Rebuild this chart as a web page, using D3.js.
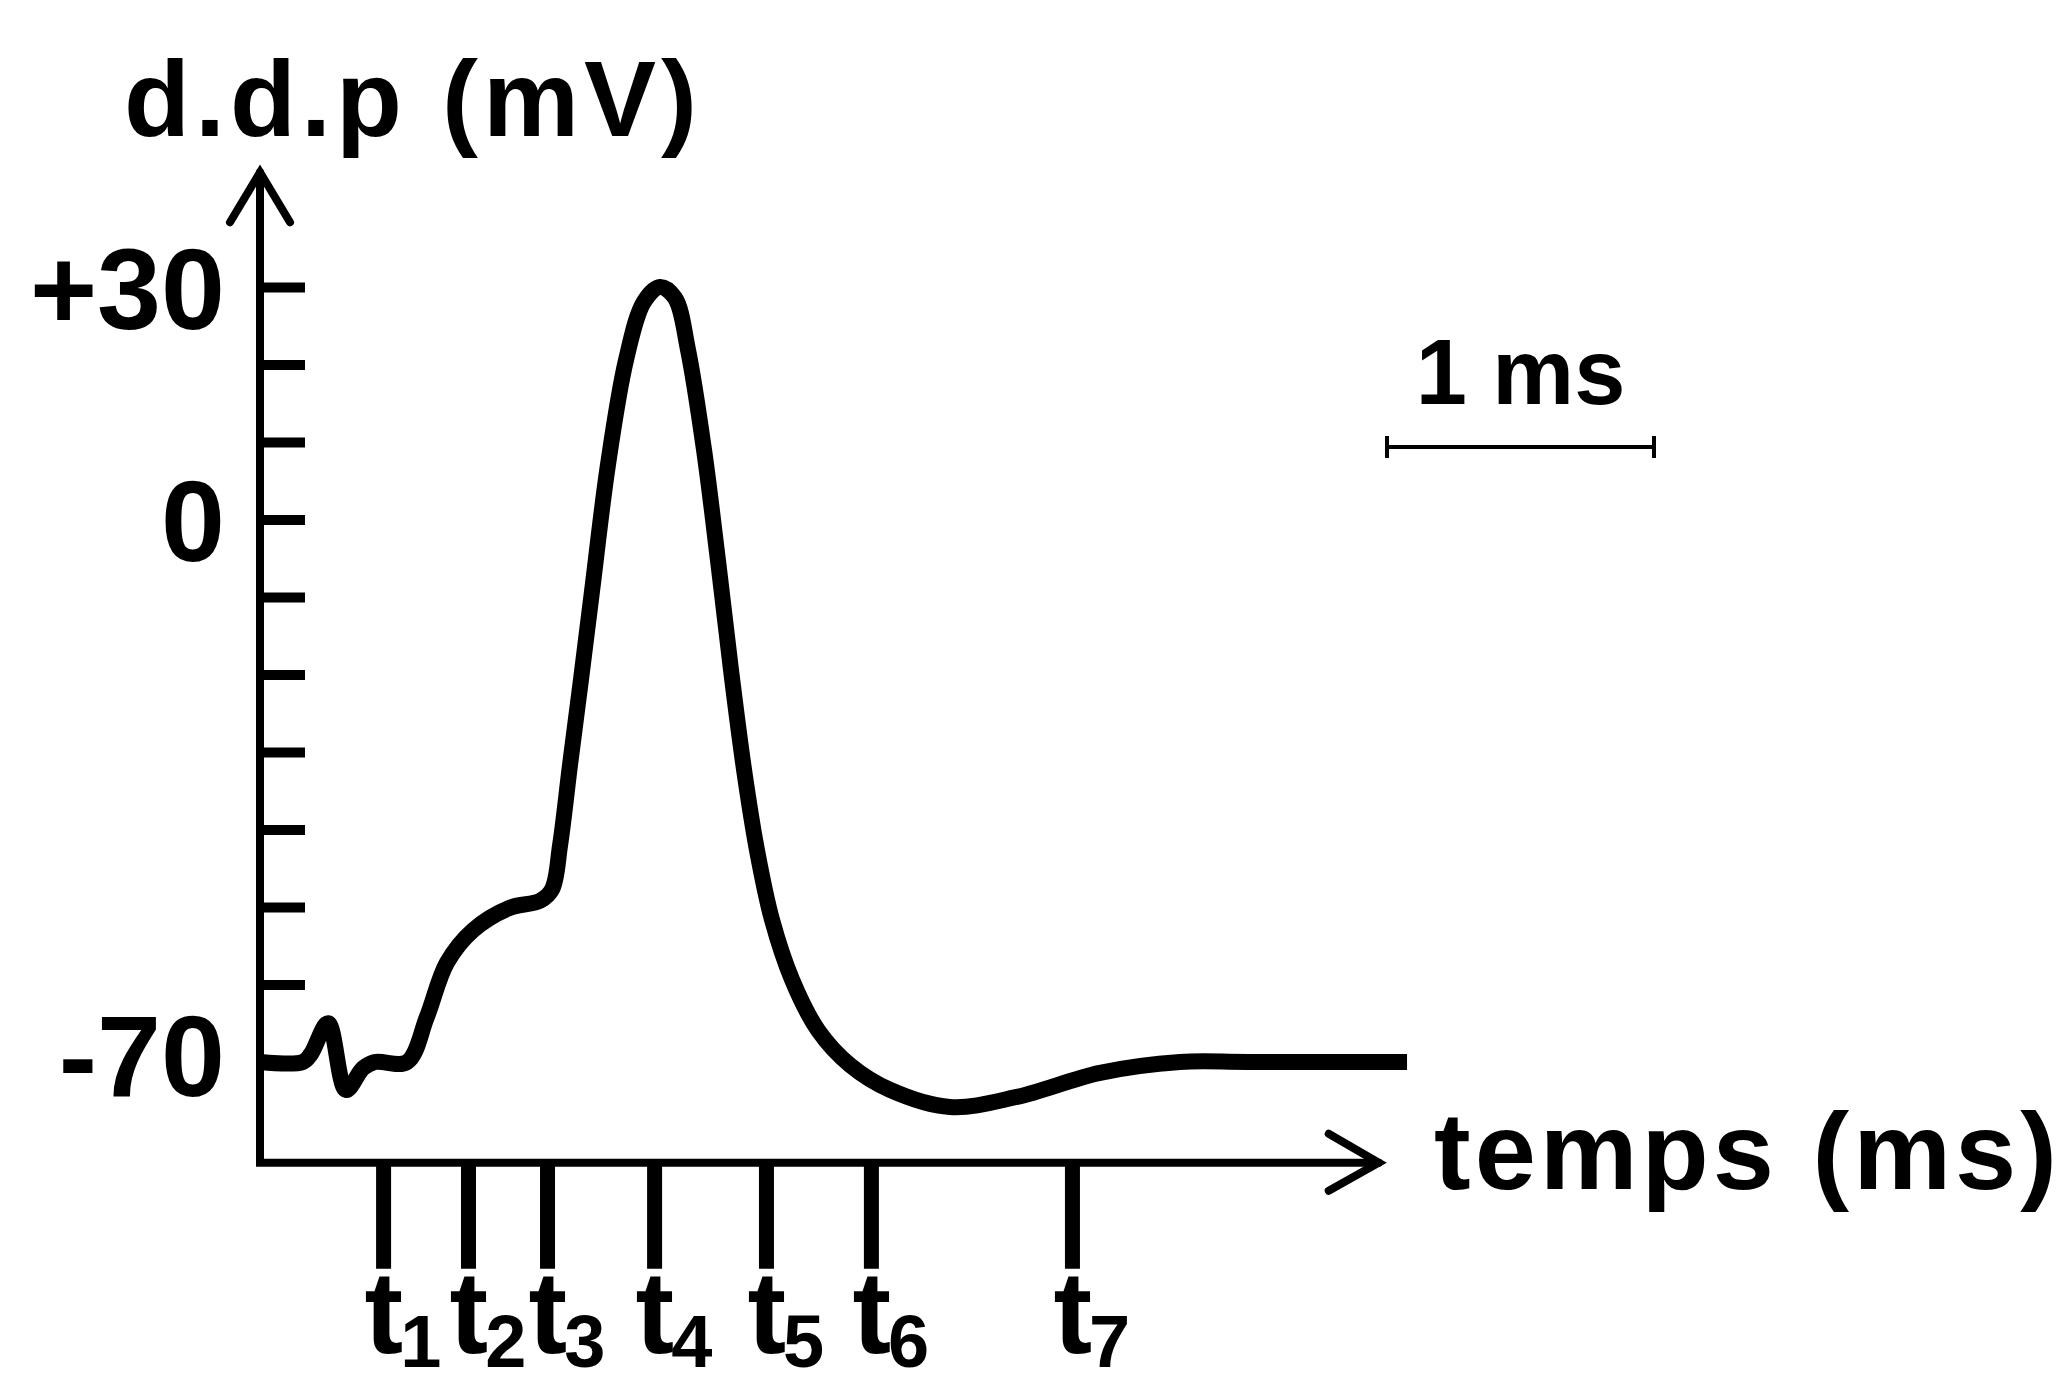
<!DOCTYPE html>
<html>
<head>
<meta charset="utf-8">
<script src="https://cdn.jsdelivr.net/npm/d3@7"></script>
<style>
  body { margin: 0; background: #fff; }
  svg text { font-family: "Liberation Sans", Arial, Helvetica, sans-serif; font-weight: bold; fill: #000; }
</style>
</head>
<body>
<div id="chart"></div>
<script>
// potential curve (time in ms, d.d.p in mV)
var timeMs = [0.0, 0.16, 0.19, 0.255, 0.322, 0.386, 0.43, 0.551, 0.625, 0.70, 0.798, 0.936, 1.049, 1.094,
              1.124, 1.161, 1.202, 1.243, 1.303, 1.371, 1.438, 1.498, 1.554, 1.603, 1.663, 1.715, 1.764,
              1.813, 1.861, 1.918, 1.993, 2.090, 2.210, 2.360, 2.584, 2.835, 3.146, 3.446, 3.7, 4.296];
var ddp = [-70, -70, -69, -65, -73.6, -70.8, -70, -70, -64.2, -57.2, -53, -50.1, -49.2, -47.7,
           -42, -31.7, -20.7, -9.4, 7, 20.6, 28.1, 30, 28.6, 21.9, 9, -5.2, -19.4,
           -32.3, -42.6, -51.7, -59.4, -65.9, -70.4, -73.6, -75.8, -74.5, -71.4, -70, -70, -70];

// marked instants on the time axis
var instantNames = ["1", "2", "3", "4", "5", "6", "7"];
var instantTimes = [0.461, 0.779, 1.075, 1.476, 1.895, 2.288, 3.041];

// y ticks and labels
var yTicks = [30, 20, 10, 0, -10, -20, -30, -40, -50, -60, -70];
var yLabels = {"30": "+30", "0": "0", "-70": "-70"};

var scaleBarMs = 1;

var width = 2070, height = 1398;

var svg = d3.select("#chart").append("svg")
    .attr("width", width)
    .attr("height", height);

var x = d3.scaleLinear().domain([0, 1]).range([260, 527]);
var y = d3.scaleLinear().domain([-70, 30]).range([1062, 287]);

var xAxisEnd = 4.19, yAxisBottom = -83, yAxisTop = 44.8;
var x0 = x(0), yBase = y(yAxisBottom);

// y axis ticks (pointing right) with labels on the left
var labelNudge = {"-70": -8};
var yAxis = svg.append("g")
    .attr("transform", "translate(" + x0 + ",0)")
    .call(d3.axisLeft(y)
      .tickValues(yTicks)
      .tickSizeInner(-45)
      .tickSizeOuter(0)
      .tickPadding(35)
      .tickFormat(function(d) { return yLabels[d] || ""; }));
yAxis.select(".domain").remove();
yAxis.selectAll(".tick line").attr("stroke", "#000").attr("stroke-width", 10);
yAxis.selectAll(".tick text")
    .attr("font-size", 115)
    .attr("dy", null)
    .attr("y", function(d) { return 41 + (labelNudge[d] || 0); })
    .style("font-family", null);

// x axis: thick marks for t1..t7
var xAxis = svg.append("g")
    .attr("transform", "translate(0," + yBase + ")")
    .call(d3.axisBottom(x)
      .tickValues(instantTimes)
      .tickSizeInner(106)
      .tickSizeOuter(0)
      .tickFormat(""));
xAxis.select(".domain").remove();
xAxis.selectAll(".tick line").attr("stroke", "#000").attr("stroke-width", 15);
xAxis.selectAll(".tick text").remove();
xAxis.selectAll(".tick").each(function(d, i) {
  var t = d3.select(this).append("text")
      .attr("x", -19)
      .attr("y", 190)
      .attr("font-size", 116)
      .attr("text-anchor", "start");
  t.append("tspan").text("t");
  t.append("tspan").attr("font-size", 74).attr("dx", -3).attr("dy", 14).text(instantNames[i]);
});

// axis lines with open arrow heads
var axisStyle = function(p) {
  p.attr("fill", "none").attr("stroke", "#000").attr("stroke-width", 8).attr("stroke-linecap", "round");
};
svg.append("path")
    .attr("d", "M" + x0 + "," + y(yAxisTop) + "V" + yBase + "H" + x(xAxisEnd))
    .call(axisStyle);
svg.append("path")
    .attr("d", "M" + (x0 - 30) + "," + (y(yAxisTop) + 50) + "L" + x0 + "," + y(yAxisTop) + "L" + (x0 + 30) + "," + (y(yAxisTop) + 50))
    .call(axisStyle);
svg.append("path")
    .attr("d", "M" + (x(xAxisEnd) - 50) + "," + (yBase - 29) + "L" + x(xAxisEnd) + "," + yBase + "L" + (x(xAxisEnd) - 50) + "," + (yBase + 28))
    .call(axisStyle);

// axis titles
svg.append("text")
    .attr("x", 124).attr("y", 136)
    .attr("font-size", 108)
    .attr("letter-spacing", 5)
    .text("d.d.p (mV)");
svg.append("text")
    .attr("x", 1434).attr("y", 1189)
    .attr("font-size", 110)
    .attr("letter-spacing", 4)
    .text("temps (ms)");

// the action potential
var line = d3.line()
    .x(function(d, i) { return x(timeMs[i]); })
    .y(function(d) { return y(d); })
    .curve(d3.curveCatmullRom.alpha(0.5));
svg.append("path")
    .attr("d", line(ddp))
    .attr("fill", "none")
    .attr("stroke", "#000")
    .attr("stroke-width", 16)
    .attr("stroke-linejoin", "round")
    .attr("stroke-linecap", "butt");

// 1 ms scale bar
var barX1 = 1387, barX2 = barX1 + (x(scaleBarMs) - x(0)), barY = 447;
var bar = svg.append("g").attr("stroke", "#000").attr("stroke-width", 4);
bar.append("line").attr("x1", barX1).attr("x2", barX2).attr("y1", barY).attr("y2", barY);
bar.append("line").attr("x1", barX1).attr("x2", barX1).attr("y1", barY - 11).attr("y2", barY + 11);
bar.append("line").attr("x1", barX2).attr("x2", barX2).attr("y1", barY - 11).attr("y2", barY + 11);
svg.append("text")
    .attr("x", (barX1 + barX2) / 2).attr("y", 404)
    .attr("text-anchor", "middle")
    .attr("font-size", 92)
    .text(scaleBarMs + " ms");
</script>
</body>
</html>
